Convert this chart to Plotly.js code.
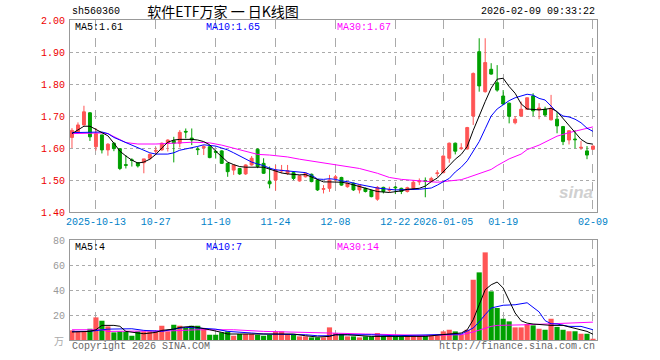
<!DOCTYPE html>
<html><head><meta charset="utf-8">
<script src="https://cdn.plot.ly/plotly-3.0.1.min.js"></script>
<style>html,body{margin:0;padding:0;background:#fff}#chart{width:660px;height:360px}</style>
</head><body><div id="chart"></div>
<script>
const dates = ['2025-09-29','2025-09-30','2025-10-09','2025-10-10','2025-10-13','2025-10-14','2025-10-15','2025-10-16','2025-10-17','2025-10-20','2025-10-21','2025-10-22','2025-10-23','2025-10-24','2025-10-27','2025-10-28','2025-10-29','2025-10-30','2025-10-31','2025-11-03','2025-11-04','2025-11-05','2025-11-06','2025-11-07','2025-11-10','2025-11-11','2025-11-12','2025-11-13','2025-11-14','2025-11-17','2025-11-18','2025-11-19','2025-11-20','2025-11-21','2025-11-24','2025-11-25','2025-11-26','2025-11-27','2025-11-28','2025-12-01','2025-12-02','2025-12-03','2025-12-04','2025-12-05','2025-12-08','2025-12-09','2025-12-10','2025-12-11','2025-12-12','2025-12-15','2025-12-16','2025-12-17','2025-12-18','2025-12-19','2025-12-22','2025-12-23','2025-12-24','2025-12-25','2025-12-26','2025-12-29','2025-12-30','2025-12-31','2026-01-05','2026-01-06','2026-01-07','2026-01-08','2026-01-09','2026-01-12','2026-01-13','2026-01-14','2026-01-15','2026-01-16','2026-01-19','2026-01-20','2026-01-21','2026-01-22','2026-01-23','2026-01-26','2026-01-27','2026-01-28','2026-01-29','2026-01-30','2026-02-02','2026-02-03','2026-02-04','2026-02-05','2026-02-06','2026-02-09'];

const openP = [1.633,1.650,1.672,1.710,1.604,1.641,1.594,1.615,1.598,1.548, 1.563,1.554,1.554,1.568,1.590,1.594,1.615,1.623,1.615,1.652, 1.631,1.597,1.601,1.604,1.589,1.591,1.552,1.531,1.536,1.519, 1.547,1.596,1.552,1.495,1.500,1.528,1.521,1.523,1.497,1.510, 1.518,1.500,1.471,1.474,1.505,1.508,1.479,1.490,1.469,1.474, 1.467,1.440,1.477,1.468,1.478,1.474,1.464,1.474,1.494,1.498, 1.495,1.520,1.523,1.568,1.615,1.598,1.597,1.700,1.901,1.776, 1.846,1.804,1.7625,1.740,1.679,1.700,1.721,1.7625,1.719,1.721, 1.688,1.690,1.667,1.625,1.628,1.600,1.591,1.596];
const highP = [1.662,1.680,1.732,1.712,1.662,1.641,1.615,1.618,1.600,1.578, 1.568,1.556,1.566,1.583,1.602,1.617,1.627,1.635,1.656,1.661, 1.661,1.604,1.609,1.606,1.594,1.593,1.554,1.548,1.538,1.549, 1.575,1.599,1.568,1.542,1.547,1.547,1.547,1.525,1.516,1.523, 1.520,1.502,1.484,1.516,1.516,1.510,1.492,1.492,1.486,1.476, 1.469,1.481,1.479,1.479,1.481,1.476,1.479,1.500,1.505,1.508, 1.510,1.531,1.577,1.617,1.617,1.615,1.666,1.836,1.943,1.943, 1.865,1.859,1.781,1.742,1.700,1.745,1.757,1.771,1.740,1.729, 1.766,1.714,1.669,1.656,1.656,1.622,1.606,1.608];
const lowP = [1.600,1.647,1.670,1.622,1.592,1.583,1.576,1.590,1.531,1.536, 1.542,1.539,1.521,1.562,1.578,1.592,1.589,1.555,1.602,1.630, 1.609,1.578,1.578,1.568,1.567,1.550,1.510,1.516,1.516,1.516, 1.545,1.537,1.519,1.474,1.467,1.521,1.516,1.500,1.495,1.508, 1.493,1.466,1.458,1.463,1.495,1.482,1.476,1.466,1.458,1.461, 1.446,1.435,1.458,1.461,1.456,1.456,1.461,1.469,1.484,1.446, 1.493,1.510,1.521,1.554,1.580,1.594,1.595,1.672,1.776,1.773, 1.829,1.776,1.734,1.677,1.674,1.698,1.719,1.700,1.690,1.699, 1.686,1.646,1.609,1.611,1.599,1.594,1.565,1.594];
const closeP = [1.655,1.672,1.713,1.635,1.645,1.594,1.612,1.598,1.536,1.546, 1.561,1.544,1.566,1.580,1.592,1.615,1.625,1.615,1.649,1.650, 1.625,1.595,1.604,1.570,1.587,1.552,1.526,1.547,1.519,1.547, 1.568,1.542,1.521,1.488,1.531,1.530,1.529,1.505,1.513,1.521, 1.495,1.469,1.473,1.500,1.510,1.484,1.490,1.469,1.484,1.464, 1.448,1.477,1.464,1.470,1.476,1.464,1.476,1.493,1.496,1.496, 1.505,1.522,1.575,1.615,1.590,1.600,1.664,1.833,1.794,1.867, 1.831,1.781,1.7375,1.699,1.690,1.721,1.757,1.716,1.725,1.703, 1.724,1.669,1.620,1.654,1.626,1.602,1.578,1.606];
const volume = [7.7,6.9,6.9,9.0,18.1,15.4,10.9,6.1,6.9,6.9, 3.4,6.9,6.9,6.9,6.9,11.4,6.9,12.2,11.4,9.6, 11.4,11.4,9.0,4.2,4.2,6.1,6.9,3.4,4.8,4.8, 4.8,4.2,3.4,4.2,6.9,6.9,4.8,4.8,2.9,2.9, 2.1,2.1,2.1,10.1,5.6,5.0,2.9,2.9,2.1,2.9, 2.9,5.6,3.4,2.9,3.4,2.9,3.4,3.4,3.4,3.4, 3.4,3.4,6.9,8.2,6.9,4.2,8.2,48.2,54.1,70.1, 38.9,25.6,17.0,14.9,10.1,10.1,12.8,11.7,9.0,8.2, 17.0,10.5,8.2,7.0,7.0,5.0,5.0,1.0];

// moving-average lines (trading-day index -> value)
const ma5Idx = [0,2,3,5,6,7,8,9,10,11,12,13,14,15,16,17,18,20,21,22,23,24,25,26,27,28,29,31,32,33,34,35,36,37,38,39,40,41,42,43,44,45,46,48,50,51,53,55,56,58,59,60,61,62,63,64,65,66,67,68,69,70,71,72,73,74,75,76,78,79,80,81,82,83,84,85,86,87];
const ma5Val = [1.645,1.668,1.668,1.648,1.638,1.615,1.590,1.575,1.562,1.553,1.556,1.565,1.580,1.600,1.618,1.625,1.627,1.627,1.625,1.620,1.610,1.590,1.572,1.556,1.548,1.542,1.540,1.541,1.540,1.534,1.527,1.522,1.519,1.517,1.516,1.517,1.509,1.500,1.494,1.494,1.494,1.493,1.490,1.479,1.469,1.464,1.461,1.466,1.471,1.474,1.481,1.495,1.506,1.525,1.545,1.565,1.580,1.605,1.655,1.703,1.745,1.787,1.815,1.818,1.792,1.771,1.738,1.722,1.719,1.721,1.724,1.714,1.692,1.668,1.648,1.627,1.615,1.612];
const ma10Idx = [0,3,5,6,7,8,9,10,11,12,13,14,15,16,17,18,19,20,21,22,23,24,25,26,27,28,29,30,31,32,33,34,35,36,37,38,39,40,41,42,43,44,45,46,48,51,54,58,60,61,62,63,64,65,66,67,68,69,70,71,72,73,74,75,76,77,78,79,80,81,82,83,84,85,86,87];
const ma10Val = [1.648,1.650,1.650,1.645,1.633,1.625,1.617,1.608,1.600,1.592,1.585,1.581,1.581,1.581,1.585,1.593,1.597,1.600,1.605,1.610,1.608,1.606,1.600,1.594,1.585,1.575,1.565,1.556,1.550,1.545,1.537,1.532,1.530,1.528,1.526,1.524,1.523,1.515,1.503,1.502,1.504,1.502,1.497,1.495,1.486,1.475,1.469,1.471,1.475,1.484,1.495,1.505,1.525,1.540,1.560,1.590,1.620,1.660,1.700,1.722,1.735,1.748,1.757,1.763,1.768,1.765,1.755,1.750,1.732,1.712,1.700,1.697,1.690,1.679,1.662,1.652];
const ma30Idx = [0,5,6,7,8,9,11,14,17,20,22,23,25,27,29,31,33,36,38,40,42,44,46,48,51,53,55,58,60,61,63,65,66,68,70,71,73,75,76,78,80,81,83,85,86,87];
const ma30Val = [1.645,1.647,1.645,1.635,1.625,1.617,1.6125,1.6125,1.615,1.618,1.617,1.616,1.609,1.600,1.589,1.580,1.578,1.572,1.565,1.559,1.554,1.549,1.542,1.536,1.521,1.508,1.502,1.497,1.493,1.493,1.497,1.501,1.507,1.521,1.533,1.545,1.566,1.581,1.595,1.609,1.627,1.637,1.648,1.657,1.663,1.666];
const vma5Idx = [0,3,4,5,7,8,9,11,12,14,15,17,18,20,21,23,25,26,28,30,32,35,37,39,41,43,44,46,50,54,59,63,65,66,67,68,69,70,71,72,73,74,75,76,77,80,82,84,86,87];
const vma5Val = [6.4,6.9,8.2,11.7,11.7,11.0,6.9,5.6,5.0,6.1,7.7,8.7,10.1,10.9,10.1,8.2,6.1,4.8,4.8,4.8,4.2,4.8,4.8,3.4,2.4,2.9,4.2,4.2,2.9,2.9,2.9,4.8,5.6,8.2,16.2,28.2,40.2,44.2,46.4,41.6,32.2,21.6,15.4,13.5,12.8,11.7,11.7,9.0,6.9,4.6];
const vma10Idx = [0,3,6,8,10,12,15,17,19,21,24,26,28,30,32,37,39,41,43,44,50,54,63,65,67,68,69,70,72,74,76,77,78,79,80,81,83,85,87];
const vma10Val = [6.9,6.9,8.7,9.0,9.0,7.7,6.9,8.7,10.1,9.6,8.7,6.9,6.4,5.6,4.8,4.8,4.2,3.4,3.4,4.2,4.2,3.4,4.2,4.8,9.6,14.5,20.3,25.6,27.8,28.2,29.8,26.5,22.5,15.5,13.0,12.8,10.9,10.9,8.2];
const vma30Idx = [0,5,6,16,17,21,27,32,38,43,49,59,65,67,70,71,76,83,87];
const vma30Val = [8.2,8.2,6.9,6.9,7.4,8.2,8.2,6.9,6.4,5.6,4.8,3.7,4.2,6.4,10.9,11.7,12.2,13.5,14.3];

const tickDates = ['2025-10-13','2025-10-27','2025-11-10','2025-11-24','2025-12-08','2025-12-22','2026-01-05','2026-01-19','2026-02-09'];
const tickLabels = ['2025-10-13','10-27','11-10','11-24','12-08','12-22','2026-01-05','01-19','02-09'];
const priceTicks = [1.40,1.50,1.60,1.70,1.80,1.90,2.00];
const volTicks = [20,40,60,80];

const titleText = '软件ETF万家 一 日K线图';
const codeText = 'sh560360';
const timeText = '2026-02-09 09:33:22';
const priceMaLabels = ['MA5:1.61','MA10:1.65','MA30:1.67'];
const volMaLabels = ['MA5:4','MA10:7','MA30:14'];

const RED = '#ff5555', GREEN = '#00a000';
const MONO = 'Liberation Mono, DejaVu Sans Mono, monospace';
const maColors = ['#000000','#0000ff','#ff00ff'];

const pick = idx => idx.map(i => dates[i]);
const lineTrace = (idx, val, color, xa, ya) => ({type:'scatter', mode:'lines', x: pick(idx), y: val, xaxis: xa, yaxis: ya,
  line:{color: color, width: 1}, hoverinfo:'skip', showlegend:false});

const traces = [
  {type:'candlestick', x: dates, open: openP, high: highP, low: lowP, close: closeP, xaxis:'x', yaxis:'y',
   increasing:{line:{color:RED, width:1}, fillcolor:RED},
   decreasing:{line:{color:GREEN, width:1}, fillcolor:GREEN},
   whiskerwidth: 0, showlegend:false, hoverinfo:'skip'},
  lineTrace(ma30Idx, ma30Val, maColors[2], 'x', 'y'),
  lineTrace(ma10Idx, ma10Val, maColors[1], 'x', 'y'),
  lineTrace(ma5Idx, ma5Val, maColors[0], 'x', 'y'),
  {type:'bar', x: dates, y: volume, xaxis:'x2', yaxis:'y2', width: 0.86,
   marker:{color: dates.map((d,i) => closeP[i] >= openP[i] ? RED : GREEN), line:{width:0}},
   showlegend:false, hoverinfo:'skip'},
  lineTrace(vma30Idx, vma30Val, maColors[2], 'x2', 'y2'),
  lineTrace(vma10Idx, vma10Val, maColors[1], 'x2', 'y2'),
  lineTrace(vma5Idx, vma5Val, maColors[0], 'x2', 'y2')
];

const xBase = {type:'category', categoryorder:'array', categoryarray: dates, range:[-0.33, 87.67],
  tickmode:'array', tickvals: tickDates, ticktext: tickLabels,
  showgrid:true, gridcolor:'#aaaaaa', griddash:'dash', gridwidth:1,
  showline:true, linecolor:'#999999', linewidth:1, mirror:true, ticks:'', zeroline:false,
  rangeslider:{visible:false}, fixedrange:true};

const layout = {
  width:660, height:360, paper_bgcolor:'#ffffff', plot_bgcolor:'#ffffff',
  margin:{l:70, r:63, t:20, b:20},
  showlegend:false,
  title:{text: titleText, font:{family:'Noto Sans CJK SC', size:14, color:'#000'}, xref:'container', yref:'container',
    x: 223/660, xanchor:'center', y: 1 - 12/360, yanchor:'middle'},
  xaxis: Object.assign({}, xBase, {anchor:'y', showticklabels:true,
    tickfont:{family: MONO, size:10, color:'#0082c8'}}),
  xaxis2: Object.assign({}, xBase, {anchor:'y2', showticklabels:false, matches:'x'}),
  yaxis: {domain:[0.4, 1], range:[1.40, 2.00], tickmode:'array', tickvals: priceTicks, ticktext: priceTicks.map(v => v.toFixed(2)),
    showgrid:true, gridcolor:'#aaaaaa', griddash:'dot', gridwidth:1, zeroline:false,
    showline:true, linecolor:'#999999', linewidth:1, mirror:true, ticks:'', ticklabelstandoff:2,
    tickfont:{family: MONO, size:10, color:'#ee0000'}, fixedrange:true},
  yaxis2: {domain:[0, 0.3125], range:[0, 80], tickmode:'array', tickvals: volTicks, ticktext: volTicks.map(String),
    showgrid:true, gridcolor:'#aaaaaa', griddash:'dot', gridwidth:1, zeroline:false,
    showline:true, linecolor:'#999999', linewidth:1, mirror:true, ticks:'', ticklabelstandoff:2,
    tickfont:{family: MONO, size:10, color:'#999999'}, fixedrange:true},
  annotations: [
    {text: codeText, xref:'paper', yref:'paper', x:0, y:1, xanchor:'left', yanchor:'bottom', yshift:1, showarrow:false,
     font:{family: MONO, size:10, color:'#000'}},
    {text: timeText, xref:'paper', yref:'paper', x:1, y:1, xanchor:'right', yanchor:'bottom', yshift:1, showarrow:false,
     font:{family: MONO, size:10, color:'#000'}},
    {text: priceMaLabels[0], xref:'paper', yref:'paper', x:0.006, y:1, xanchor:'left', yanchor:'top', showarrow:false,
     font:{family: MONO, size:10, color: maColors[0]}},
    {text: priceMaLabels[1], xref:'paper', yref:'paper', x:0.254, y:1, xanchor:'left', yanchor:'top', showarrow:false,
     font:{family: MONO, size:10, color: maColors[1]}},
    {text: priceMaLabels[2], xref:'paper', yref:'paper', x:0.502, y:1, xanchor:'left', yanchor:'top', showarrow:false,
     font:{family: MONO, size:10, color: maColors[2]}},
    {text: volMaLabels[0], xref:'paper', yref:'paper', x:0.006, y:0.3125, xanchor:'left', yanchor:'top', showarrow:false,
     font:{family: MONO, size:10, color: maColors[0]}},
    {text: volMaLabels[1], xref:'paper', yref:'paper', x:0.254, y:0.3125, xanchor:'left', yanchor:'top', showarrow:false,
     font:{family: MONO, size:10, color: maColors[1]}},
    {text: volMaLabels[2], xref:'paper', yref:'paper', x:0.502, y:0.3125, xanchor:'left', yanchor:'top', showarrow:false,
     font:{family: MONO, size:10, color: maColors[2]}},
    {text: 'Copyright 2026 SINA.COM', xref:'paper', yref:'paper', x:0, y:0, xanchor:'left', yanchor:'top', yshift:1, showarrow:false,
     font:{family: MONO, size:10, color:'#666'}},
    {text: 'http://finance.sina.com.cn', xref:'paper', yref:'paper', x:1, y:0, xanchor:'right', yanchor:'top', yshift:1, showarrow:false,
     font:{family: MONO, size:10, color:'#666'}},
    {text: '万', xref:'paper', yref:'paper', x:0, y:0, xanchor:'right', yanchor:'middle', xshift:-4, showarrow:false,
     font:{family:'Noto Sans CJK SC', size:10, color:'#aaa'}},
    {text: '<b><i>sina</i></b>', xref:'paper', yref:'paper', x:1, y:0.46, xanchor:'right', yanchor:'middle', xshift:-2, showarrow:false,
     font:{family:'Liberation Sans', size:17, color:'#d0d0d0'}}
  ]
};

Plotly.newPlot('chart', traces, layout, {staticPlot:true, displayModeBar:false});
</script></body></html>
